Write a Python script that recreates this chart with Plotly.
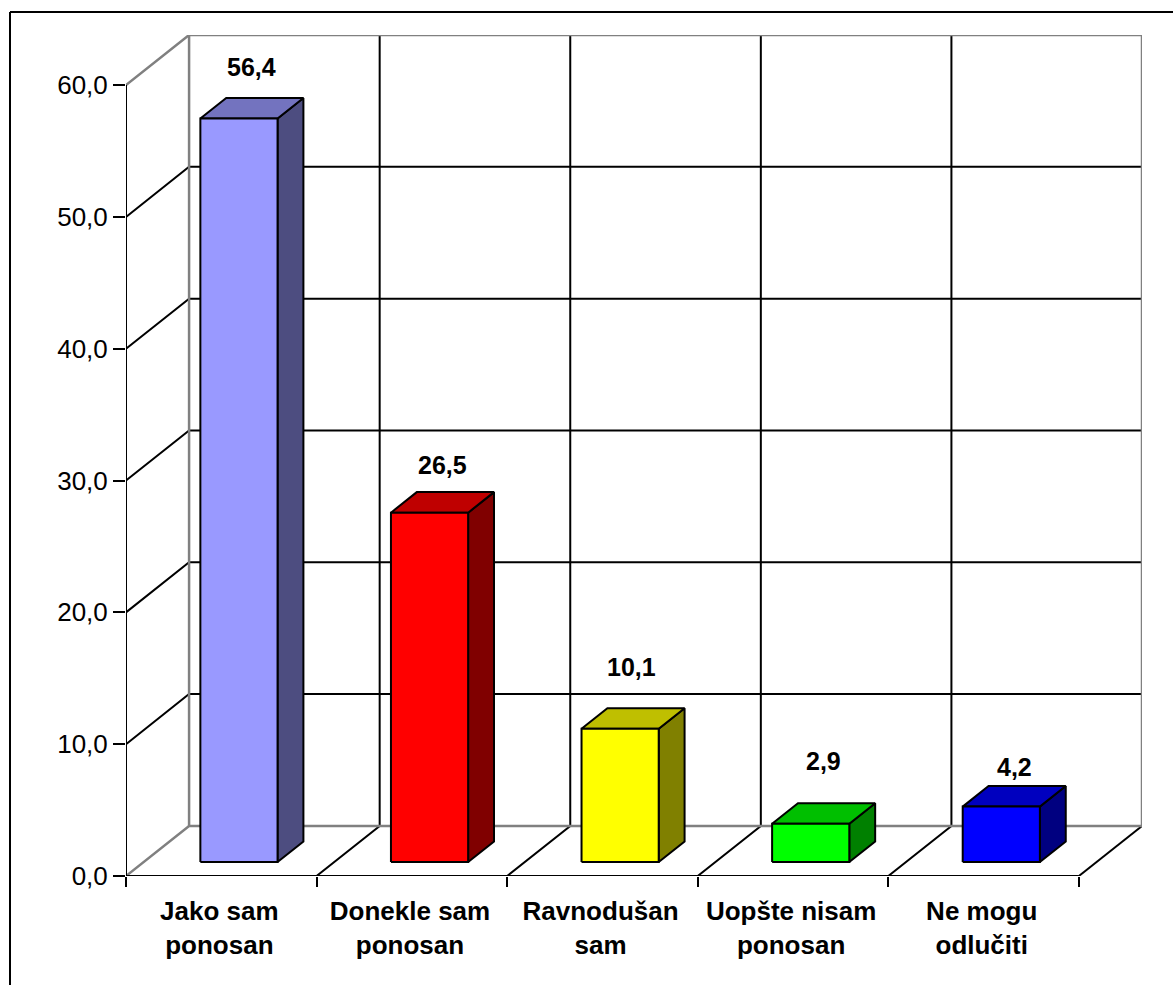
import plotly.graph_objects as go

categories = ["Jako sam<br>ponosan", "Donekle sam<br>ponosan", "Ravnodušan<br>sam",
              "Uopšte nisam<br>ponosan", "Ne mogu<br>odlučiti"]
values = [56.4, 26.5, 10.1, 2.9, 4.2]
value_labels = ["56,4", "26,5", "10,1", "2,9", "4,2"]
y_ticks = [0, 10, 20, 30, 40, 50, 60]

front_colors = ["#9999FF", "#FF0000", "#FFFF00", "#00FF00", "#0000FF"]
top_colors = ["#7373BF", "#BF0000", "#BFBF00", "#00BF00", "#0000BF"]
side_colors = ["#4D4D80", "#800000", "#808000", "#008000", "#000080"]
label_lift_px = [52, 48, 62, 63, 40]
label_shift_px = [0, 0, -2, 0, 0]

# oblique depth of the chart box, in axis units
DX, DY = 0.331, 3.8
BAR_W, D0, D1 = 0.405, 0.28, 0.69
W, H = 1173, 985
ML, MR, MT, MB = 126, 31, 35, 109
FONT = "Liberation Sans, Arial, sans-serif"
N = len(categories)
YMAX = y_ticks[-1]

fig = go.Figure()


def line(xs, ys, color="#000000", width=2):
    fig.add_trace(go.Scatter(x=xs, y=ys, mode="lines", cliponaxis=False, hoverinfo="skip",
                             line=dict(color=color, width=width), showlegend=False))


def poly(xs, ys, fill):
    fig.add_trace(go.Scatter(x=xs + xs[:1], y=ys + ys[:1], mode="lines", fill="toself",
                             fillcolor=fill, cliponaxis=False, hoverinfo="skip",
                             line=dict(color="#000000", width=2), showlegend=False))


GRAY = "#808080"
# horizontal gridlines: side wall then back wall
for t in y_ticks[1:-1]:
    line([0, DX, N + DX], [t, t + DY, t + DY])
# vertical gridlines on the back wall and floor lines
for i in range(1, N):
    line([i, i + DX, i + DX], [0, DY, YMAX + DY])
line([N, N + DX], [0, DY])
# wall outline
line([0, DX, N + DX, N + DX], [YMAX, YMAX + DY, YMAX + DY, DY], GRAY, 2.5)
line([0, DX, N + DX], [0, DY, DY], GRAY, 2.5)
line([DX, DX], [DY, YMAX + DY], GRAY, 2.5)
# front axes
line([0, 0], [0, YMAX])
line([0, N], [0, 0])

# bars
for i, v in enumerate(values):
    x0 = i + 0.5 - BAR_W / 2
    x1 = x0 + BAR_W
    fx0, fx1 = x0 + D0 * DX, x1 + D0 * DX
    bx0, bx1 = x0 + D1 * DX, x1 + D1 * DX
    fb, ft = D0 * DY, v + D0 * DY
    bb, bt = D1 * DY, v + D1 * DY
    poly([fx1, bx1, bx1, fx1], [fb, bb, bt, ft], side_colors[i])
    poly([fx0, fx1, bx1, bx0], [ft, ft, bt, bt], top_colors[i])
    poly([fx0, fx1, fx1, fx0], [fb, fb, ft, ft], front_colors[i])
    fig.add_annotation(x=(fx0 + bx1) / 2, y=ft, xref="x", yref="y", text=f"<b>{value_labels[i]}</b>",
                       showarrow=False, yshift=label_lift_px[i], xshift=label_shift_px[i],
                       xanchor="center", yanchor="middle",
                       font=dict(family=FONT, size=25, color="#000000"))

pw = W - ML - MR
ph = H - MT - MB
fig.update_layout(
    width=W, height=H, margin=dict(l=ML, r=MR, t=MT, b=MB, autoexpand=False),
    paper_bgcolor="#FFFFFF", plot_bgcolor="rgba(0,0,0,0)", separators=",.", showlegend=False,
    xaxis=dict(range=[0, N + DX], showgrid=False, zeroline=False, showline=False, fixedrange=True,
               tickmode="array", tickvals=[i + 0.49 for i in range(N)],
               ticktext=[f"<b>{c}</b>" for c in categories], ticks="", ticklen=0,
               ticklabelstandoff=17,
               tickfont=dict(family=FONT, size=26, color="#000000"), tickangle=0,
               minor=dict(ticks="outside", ticklen=10, tickwidth=2, tickcolor="#000000",
                          tickvals=list(range(N + 1)), showgrid=False)),
    yaxis=dict(range=[0, YMAX + DY], showgrid=False, zeroline=False, showline=False, fixedrange=True,
               tickmode="array", tickvals=y_ticks, tickformat=".1f", ticks="outside", ticklen=12,
               tickwidth=2, tickcolor="#000000",
               tickfont=dict(family=FONT, size=26, color="#000000")),
    shapes=[
        dict(type="line", xref="paper", yref="paper", layer="above",
             x0=(10 - ML) / pw, x1=(W - ML) / pw, y0=1 + (MT - 12) / ph, y1=1 + (MT - 12) / ph,
             line=dict(color="#000000", width=2)),
        dict(type="line", xref="paper", yref="paper", layer="above",
             x0=(10 - ML) / pw, x1=(10 - ML) / pw, y0=1 + (MT - 12) / ph, y1=-MB / ph,
             line=dict(color="#000000", width=2)),
    ],
)
fig.write_html("out.html", config=dict(displayModeBar=False),
               post_script="document.body.style.margin='0';")
